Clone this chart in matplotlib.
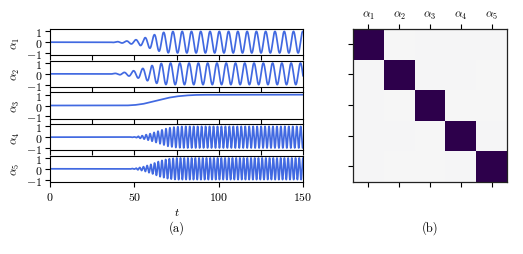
import numpy as np
import matplotlib
matplotlib.use("Agg")
from matplotlib import pyplot as plt
from matplotlib.gridspec import GridSpec

plt.rcParams['font.family'] = 'serif'
plt.rcParams['font.serif'] = ['cmr10']
plt.rcParams['mathtext.fontset'] = 'cm'
plt.rcParams['axes.formatter.use_mathtext'] = True
plt.rcParams['axes.unicode_minus'] = True

# envelope of each signal (time, amplitude)
env_t = [0, 35, 40, 45, 50, 55, 60, 65, 70, 75, 80, 150]
env_a1 = [0, 0.0, 0.05, 0.1, 0.2, 0.35, 0.6, 0.85, 0.98, 1.0, 1.0, 1.0]
env_a2 = [0, 0.0, 0.06, 0.15, 0.3, 0.5, 0.75, 0.95, 1.0, 1.0, 1.0, 1.0]
env_a4 = [0, 0.0, 0.0, 0.0, 0.02, 0.15, 0.35, 0.6, 0.85, 0.97, 1.0, 1.0]
env_a5 = [0, 0.0, 0.0, 0.0, 0.03, 0.18, 0.42, 0.72, 0.92, 1.0, 1.0, 1.0]
# alpha_3 is a slow rise with no oscillation
a3_t = [0, 45, 50, 55, 60, 65, 70, 75, 80, 85, 90, 150]
a3_v = [0, 0.0, 0.04, 0.14, 0.33, 0.53, 0.71, 0.84, 0.92, 0.97, 0.99, 1.0]

periods = [5.5, 5.5, None, 2.35, 2.2]
phases = [0.0, 1.6, None, 0.0, 0.5]

# overlap matrix for panel (b)
overlap = np.array([
    [1.000, 0.000, 0.010, 0.010, 0.010],
    [0.010, 1.000, 0.010, 0.010, 0.005],
    [0.010, 0.005, 1.000, 0.000, 0.005],
    [0.010, 0.010, 0.005, 1.000, 0.010],
    [0.010, 0.005, 0.005, 0.010, 1.000],
])
labels = [r'$\alpha_%d$' % (i + 1) for i in range(5)]

t = np.linspace(0, 150, 4000)
envs = [env_a1, env_a2, None, env_a4, env_a5]
signals = []
for k in range(5):
    if k == 2:
        signals.append(np.interp(t, a3_t, a3_v))
    else:
        e = np.interp(t, env_t, envs[k])
        signals.append(e * np.sin(2 * np.pi * t / periods[k] + phases[k]))

fs = 8.5
fig = plt.figure(figsize=(5.23, 2.55), dpi=100)
W, H = 523.0, 255.0
gs = GridSpec(5, 1, figure=fig, left=50 / W, right=303 / W,
              top=1 - 30 / H, bottom=1 - 183 / H, hspace=0.2)
for k in range(5):
    ax = fig.add_subplot(gs[k, 0])
    ax.plot(t, signals[k], color='#4169e1', lw=1.25)
    ax.set_xlim(0, 150)
    ax.set_ylim(-1.22, 1.22)
    ax.set_yticks([-1, 0, 1])
    ax.set_ylabel(labels[k], fontsize=fs, labelpad=3)
    ax.tick_params(labelsize=fs, length=3.5, width=0.8, pad=2)
    for s in ax.spines.values():
        s.set_linewidth(0.8)
    if k < 4:
        ax.set_xticks([0, 25, 50, 75, 100, 125, 150])
        ax.set_xticklabels([])
    else:
        ax.set_xticks([0, 50, 100, 150])
        ax.set_xlabel(r'$t$', fontsize=fs, labelpad=3)

ax2 = fig.add_axes([353 / W, 1 - 182.5 / H, 154 / W, 153 / H])
ax2.imshow(overlap, cmap='PuOr', vmin=-1, vmax=1, aspect='auto')
ax2.set_xticks(range(5))
ax2.set_xticklabels(labels, fontsize=fs)
ax2.set_yticks(range(5))
ax2.set_yticklabels([])
ax2.tick_params(top=True, labeltop=True, bottom=True, labelbottom=False,
                length=3.5, width=0.8, pad=2)
for s in ax2.spines.values():
    s.set_linewidth(0.9)
    s.set_color('#222222')

fig.text(177 / W, 1 - 228 / H, '(a)', ha='center', va='center', fontsize=fs + 0.5)
fig.text(430 / W, 1 - 228 / H, '(b)', ha='center', va='center', fontsize=fs + 0.5)

fig.savefig('out.png', dpi=100)
